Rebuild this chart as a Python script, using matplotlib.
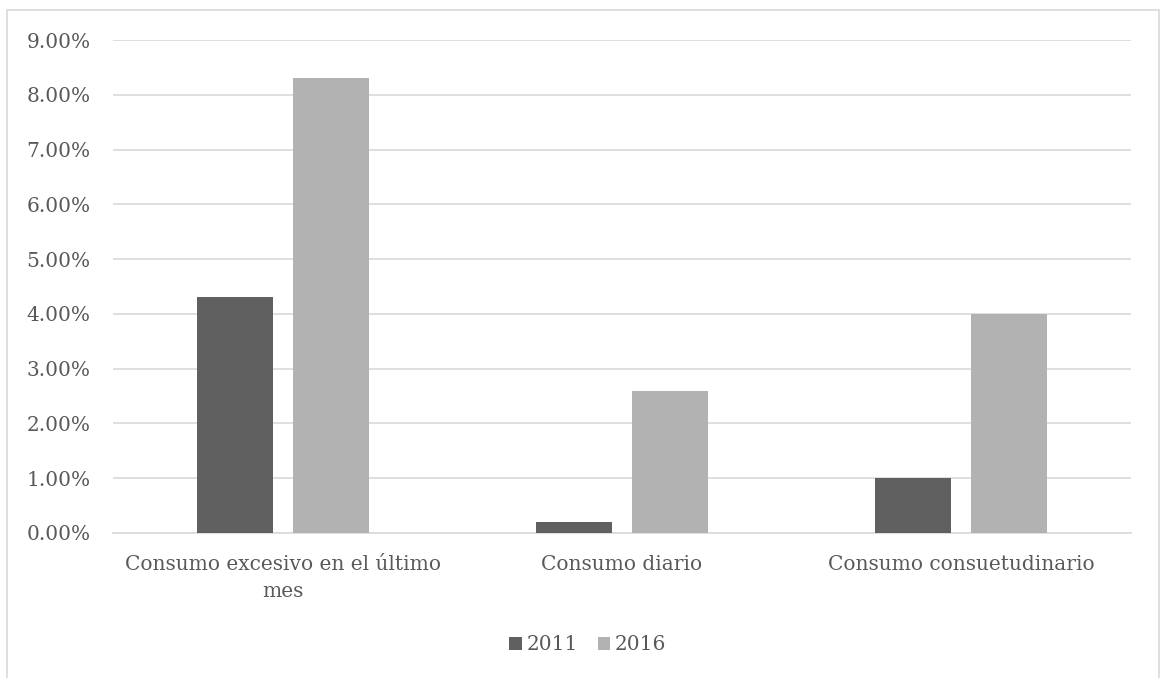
import matplotlib.pyplot as plt
import matplotlib as mpl
from matplotlib.patches import Rectangle as Rec
from matplotlib.ticker import FuncFormatter, MultipleLocator
import numpy as np

# chart data
categorias = ["Consumo excesivo en el último\nmes", "Consumo diario",
              "Consumo consuetudinario"]
anios = ["2011", "2016"]
valores_2011 = [4.3, 0.2, 1.0]
valores_2016 = [8.3, 2.6, 4.0]

colores = ["#606060", "#b2b2b2"]
gris_txt = "#595959"
gris_lin = "#d9d9d9"

plt.rcParams["font.family"] = ["DejaVu Serif"]

fig = plt.figure(figsize=(11.6, 6.78), dpi=100)
ax = fig.add_axes([113/1160, 1-533/678, (1131-113)/1160, (533-40)/678])

x = np.arange(len(categorias))
ancho = 0.224
hueco = 0.059
off = (ancho + hueco) / 2
b1 = ax.bar(x - off, valores_2011, ancho, color=colores[0], label=anios[0],
            zorder=3)
b2 = ax.bar(x + off, valores_2016, ancho, color=colores[1], label=anios[1],
            zorder=3)

ax.set_xlim(-0.5, len(categorias) - 0.5)
ax.set_ylim(0, 9)
ax.yaxis.set_major_locator(MultipleLocator(1))
ax.yaxis.set_major_formatter(FuncFormatter(lambda v, p: "%.2f%%" % v))
ax.grid(axis="y", color=gris_lin, linewidth=1.2, zorder=0)
for s in ["top", "right", "left"]:
    ax.spines[s].set_visible(False)
ax.spines["bottom"].set_color(gris_lin)
ax.spines["bottom"].set_linewidth(1.2)
ax.tick_params(axis="both", length=0, labelsize=14.5, colors=gris_txt,
               labelcolor=gris_txt)
ax.tick_params(axis="y", pad=16)
ax.tick_params(axis="x", pad=16)
ax.set_xticks(x)
ax.set_xticklabels(categorias, linespacing=1.55)

fig.legend(handles=[b1, b2], labels=anios, loc="center",
           bbox_to_anchor=(588/1160, 1-645/678), ncol=2, frameon=False,
           fontsize=14.5, labelcolor=gris_txt, handlelength=0.6,
           handleheight=0.6, handletextpad=0.25, columnspacing=1.0)

# outer chart border
borde = Rec((7/1160, -0.05), 1152/1160, 1.05 - 10/678,
            transform=fig.transFigure, fill=False, edgecolor=gris_lin,
            linewidth=1.2)
fig.patches.append(borde)

plt.savefig("out.png", dpi=100)
plt.close()
